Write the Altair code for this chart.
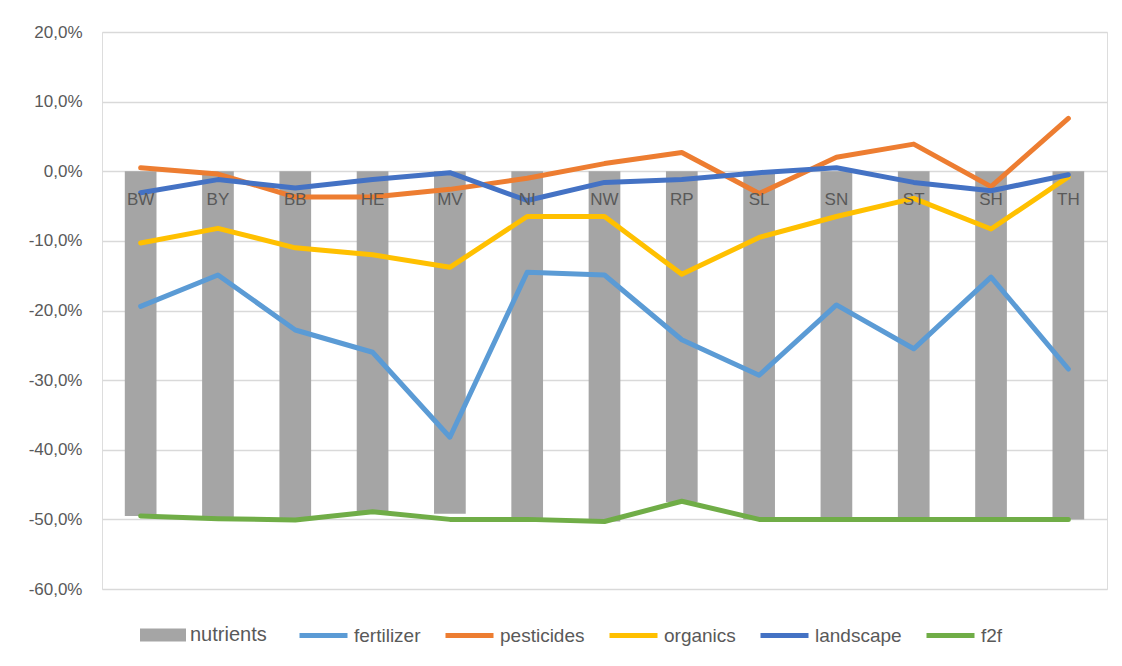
import altair as alt
import pandas as pd

states = ["BW", "BY", "BB", "HE", "MV", "NI", "NW", "RP", "SL", "SN", "ST", "SH", "TH"]
nutrients = [-0.495, -0.499, -0.501, -0.488, -0.492, -0.500, -0.503, -0.475, -0.500, -0.500, -0.500, -0.500, -0.500]
fertilizer = [-0.194, -0.149, -0.228, -0.260, -0.382, -0.145, -0.149, -0.242, -0.293, -0.192, -0.255, -0.152, -0.284]
pesticides = [0.005, -0.004, -0.037, -0.037, -0.026, -0.010, 0.011, 0.027, -0.032, 0.020, 0.039, -0.022, 0.076]
organics = [-0.103, -0.082, -0.110, -0.120, -0.138, -0.065, -0.065, -0.148, -0.095, -0.065, -0.039, -0.083, -0.008]
landscape = [-0.031, -0.012, -0.024, -0.012, -0.002, -0.042, -0.016, -0.012, -0.002, 0.005, -0.016, -0.028, -0.005]
f2f = [-0.495, -0.499, -0.501, -0.489, -0.500, -0.500, -0.503, -0.474, -0.500, -0.500, -0.500, -0.500, -0.500]

line_names = ["fertilizer", "pesticides", "organics", "landscape", "f2f"]
line_values = [fertilizer, pesticides, organics, landscape, f2f]
line_colors = ["#5B9BD5", "#ED7D31", "#FFC000", "#4472C4", "#70AD47"]

bars_df = pd.DataFrame({"state": states, "value": nutrients, "series": ["nutrients"] * len(states)})
rows = []
for name, vals in zip(line_names, line_values):
    for i, (s, v) in enumerate(zip(states, vals)):
        rows.append({"state": s, "value": v, "series": name, "idx": i})
lines_df = pd.DataFrame(rows)
labels_df = pd.DataFrame({"state": states})

FONT = "Liberation Sans"
TXT = "#595959"

xscale = alt.Scale(domain=states, paddingInner=0.59, paddingOuter=0.295)
yscale = alt.Scale(domain=[-0.6, 0.2], nice=False)
yaxis = alt.Axis(
    values=[-0.6, -0.5, -0.4, -0.3, -0.2, -0.1, 0.0, 0.1, 0.2],
    labelExpr="replace(replace(format(datum.value, '.1%'), '.', ','), '\u2212', '-')",
    title=None, domain=False, ticks=False, grid=True, gridColor="#D9D9D9", gridWidth=1.3,
    labelFont=FONT, labelFontSize=17, labelColor=TXT, labelPadding=20,
)

bars = alt.Chart(bars_df).mark_bar().encode(
    x=alt.X("state:N", scale=xscale, axis=None, sort=states),
    y=alt.Y("value:Q", scale=yscale, axis=yaxis),
    fill=alt.Fill("series:N", scale=alt.Scale(domain=["nutrients"], range=["#A5A5A5"]),
                  legend=alt.Legend(title=None, orient="none", legendX=38, legendY=580,
                                    direction="horizontal",
                                    symbolType="M-1,-0.28H1V0.28H-1Z", symbolSize=2116,
                                    symbolStrokeWidth=0, labelOffset=4,
                                    labelFont=FONT, labelFontSize=20, labelColor=TXT)),
)

lines = alt.Chart(lines_df).mark_line(strokeWidth=5, strokeCap="round", strokeJoin="round").encode(
    x=alt.X("state:N", scale=xscale, axis=None, sort=states),
    y=alt.Y("value:Q", scale=yscale),
    stroke=alt.Stroke("series:N", scale=alt.Scale(domain=line_names, range=line_colors),
                      sort=line_names,
                      legend=alt.Legend(title=None, orient="none", legendX=195, legendY=577,
                                        direction="horizontal", columns=5, columnPadding=14,
                                        gridAlign="none",
                                        symbolType="stroke", symbolSize=2304, symbolStrokeWidth=5,
                                        labelOffset=4,
                                        labelFont=FONT, labelFontSize=19, labelColor=TXT)),
    order=alt.Order("idx:Q"),
)

text = alt.Chart(labels_df).mark_text(font=FONT, fontSize=17, color=TXT, baseline="middle", dy=29).encode(
    x=alt.X("state:N", scale=xscale, axis=None, sort=states),
    y=alt.datum(0),
    text="state:N",
)

chart = alt.layer(bars, lines, text).properties(
    width=1005, height=557,
    autosize=alt.AutoSizeParams(type="none"),
    padding={"left": 94, "top": 24, "right": 7, "bottom": 69},
).configure_view(stroke=None).configure(background="white")

chart.save("out.html", embed_options={"renderer": "svg", "actions": False})
